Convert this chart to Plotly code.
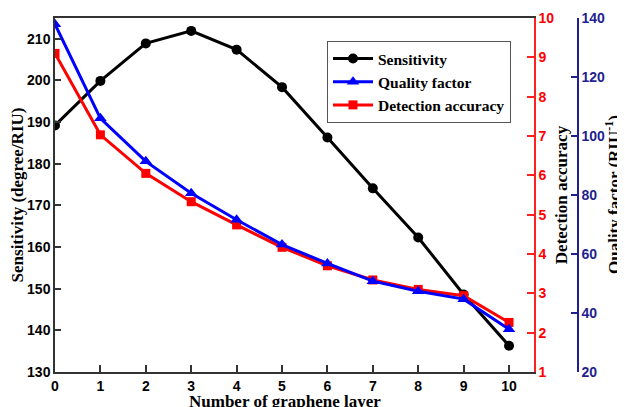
import plotly.graph_objects as go

layers = [0, 1, 2, 3, 4, 5, 6, 7, 8, 9, 10]
sensitivity = [189.2, 199.9, 208.9, 211.9, 207.4, 198.4, 186.3, 174.1, 162.3, 148.6, 136.3]
quality_factor = [137.9, 106.0, 91.4, 80.6, 71.6, 63.2, 56.8, 50.8, 47.4, 44.7, 34.5]
detection_accuracy = [9.1, 7.03, 6.05, 5.33, 4.74, 4.17, 3.70, 3.34, 3.10, 2.94, 2.26]

left_ticks = [130, 140, 150, 160, 170, 180, 190, 200, 210]
red_ticks = [1, 2, 3, 4, 5, 6, 7, 8, 9, 10]
blue_ticks = [20, 40, 60, 80, 100, 120, 140]

SERIF = "Liberation Serif"
SANS = "Liberation Sans"
NAVY = "#1f1f8f"

fig = go.Figure()
fig.add_trace(go.Scatter(x=layers, y=sensitivity, name="<b>Sensitivity</b>", mode="lines+markers",
                         line=dict(color="black", width=3), marker=dict(symbol="circle", size=10, color="black"),
                         yaxis="y"))
fig.add_trace(go.Scatter(x=layers, y=quality_factor, name="<b>Quality factor</b>", mode="lines+markers",
                         line=dict(color="#0000ff", width=3), marker=dict(symbol="triangle-up", size=11, color="#0000ff"),
                         yaxis="y3"))
fig.add_trace(go.Scatter(x=layers, y=detection_accuracy, name="<b>Detection accuracy</b>", mode="lines+markers",
                         line=dict(color="#ff0000", width=3), marker=dict(symbol="square", size=9, color="#ff0000"),
                         yaxis="y2"))

# page body has an 8px margin: figure is sized to fit the 625x407 window
W, H = 617, 399
L, R, T, B = 47, 47, 10, 35
plot_w = W - L - R
plot_h = H - T - B
XEND = (526 - L) / plot_w  # red axis position

fig.update_layout(
    width=W, height=H,
    margin=dict(l=L, r=R, t=T, b=B, autoexpand=False),
    plot_bgcolor="white", paper_bgcolor="white",
    showlegend=True,
    legend=dict(x=(319 - L) / plot_w, y=0.935, xanchor="left", yanchor="top",
                bordercolor="#555555", borderwidth=1, bgcolor="white",
                font=dict(family=SERIF, size=15.5, color="black"),
                tracegroupgap=0, itemwidth=40),
    xaxis=dict(domain=[0, XEND], range=[0, 10.55], tickvals=layers, automargin=False,
               ticks="inside", ticklen=7, tickwidth=1.5, tickcolor="#333333",
               showline=True, linecolor="#333333", linewidth=1.5, mirror=True,
               showgrid=False, zeroline=False,
               tickfont=dict(family=SANS, size=14, color="black", weight="bold")),
    yaxis=dict(range=[130, 215], tickvals=left_ticks, automargin=False,
               ticks="inside", ticklen=6, tickwidth=1.5, tickcolor="#333333",
               showline=True, linecolor="#333333", linewidth=1.5,
               showgrid=False, zeroline=False,
               tickfont=dict(family=SANS, size=14, color="black", weight="bold"),
               title=dict(text="<b>Sensitivity (degree/RIU)</b>", standoff=4,
                          font=dict(family=SERIF, size=17, color="black"))),
    yaxis2=dict(range=[1, 10], tickvals=red_ticks, overlaying="y", side="right", anchor="x",
                automargin=False,
                ticks="inside", ticklen=7, tickwidth=1.5, tickcolor="#ff2020",
                showline=True, linecolor="#ff2020", linewidth=1.5,
                showgrid=False, zeroline=False,
                tickfont=dict(family=SANS, size=14, color="#ff0000", weight="bold"),
                title=dict(text="<b>Detection accuracy</b>", standoff=2,
                           font=dict(family=SERIF, size=17, color="black"))),
    yaxis3=dict(range=[20, 140], tickvals=blue_ticks, overlaying="y", side="right",
                anchor="free", position=1.0, automargin=False,
                ticks="inside", ticklen=6, tickwidth=1.5, tickcolor=NAVY,
                showline=True, linecolor=NAVY, linewidth=1.5,
                showgrid=False, zeroline=False,
                tickfont=dict(family=SANS, size=14, color=NAVY, weight="bold")),
    annotations=[
        dict(text="<b>Quality factor (RIU<sup>-1</sup>)</b>", xref="paper", yref="paper",
             x=(605 - L) / plot_w, y=0.5, xanchor="center", yanchor="middle", textangle=-90,
             showarrow=False, font=dict(family=SERIF, size=17, color="black")),
        dict(text="<b>Number of graphene layer</b>", xref="paper", yref="paper",
             x=(277 - L) / plot_w, y=-(383 - (H - B)) / plot_h, xanchor="center", yanchor="top",
             showarrow=False, borderpad=0, font=dict(family=SERIF, size=17, color="black")),
    ],
)

fig.write_html("out.html")
